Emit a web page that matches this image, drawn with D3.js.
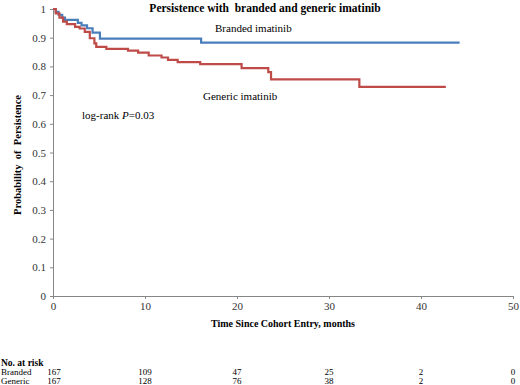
<!DOCTYPE html>
<html>
<head>
<meta charset="utf-8">
<script src="https://cdn.jsdelivr.net/npm/d3@7"></script>
<style>
body{margin:0;background:#fff}
svg{display:block;font-family:"Liberation Serif","Times New Roman",serif}
</style>
</head>
<body>
<svg id="km" width="520" height="385"></svg>
<script>
var brandedTime=[0,0.3,0.6,1.0,1.3,2.7,3.1,3.7,4.3,5.1,16.1,44.2]
var brandedSurv=[1,0.99,0.98,0.97,0.962,0.952,0.943,0.933,0.918,0.897,0.883,0.883]
var genericTime=[0,0.3,0.7,1.1,1.5,2.4,2.9,3.45,4.0,4.5,4.7,5.8,8.15,9.25,10.4,11.8,12.5,13.55,16.0,20.5,23.4,23.7,33.3,42.7]
var genericSurv=[1,0.985,0.97,0.956,0.947,0.938,0.932,0.92,0.898,0.88,0.868,0.861,0.855,0.848,0.838,0.831,0.823,0.815,0.808,0.794,0.78,0.755,0.729,0.729]
var xTicks=[0,10,20,30,40,50]
var yTicks=[0,0.1,0.2,0.3,0.4,0.5,0.6,0.7,0.8,0.9,1]
var riskRows=['Branded','Generic']
var riskBranded=[167,109,47,25,2,0]
var riskGeneric=[167,128,76,38,2,0]

var svg=d3.select('#km')
var x=d3.scaleLinear().domain([0,50]).range([53,513])
var y=d3.scaleLinear().domain([0,1]).range([296,9])
var axisColor='#868686'

var gx=svg.append('g').attr('transform','translate(0,'+y(0)+')')
    .call(d3.axisBottom(x).tickValues(xTicks).tickSize(3).tickPadding(3))
var gy=svg.append('g').attr('transform','translate('+x(0)+',0)')
    .call(d3.axisLeft(y).tickValues(yTicks).tickSize(3).tickPadding(4).tickFormat(d=>d==0||d==1?d:d3.format('.1f')(d)))
svg.selectAll('.domain').attr('stroke',axisColor)
svg.selectAll('.tick line').attr('stroke',axisColor)
svg.selectAll('.tick text').attr('fill','#333').style('font-family','"Liberation Serif",serif').style('font-size','11px')

var line=d3.line().x(d=>x(d[0])).y(d=>y(d[1])).curve(d3.curveStepAfter)
var series=[
    {t:brandedTime,s:brandedSurv,color:'#4a7ebb'},
    {t:genericTime,s:genericSurv,color:'#be4b48'}
]
series.forEach(function(se){
    svg.append('path')
        .datum(se.t.map((t,i)=>[t,se.s[i]]))
        .attr('d',line)
        .attr('fill','none')
        .attr('stroke',se.color)
        .attr('stroke-width',2.2)
})

svg.append('text').attr('x',265).attr('y',12).attr('text-anchor','middle')
    .attr('font-weight','bold').attr('font-size','11.5px').attr('fill','#000')
    .attr('xml:space','preserve')
    .text('Persistence with  branded and generic imatinib')
svg.append('text').attr('x',215).attr('y',32).attr('font-size','11px').text('Branded imatinib')
svg.append('text').attr('x',203).attr('y',100).attr('font-size','11px').text('Generic imatinib')
var lr=svg.append('text').attr('x',82).attr('y',119).attr('font-size','11px')
lr.append('tspan').text('log-rank ')
lr.append('tspan').attr('font-style','italic').text('P')
lr.append('tspan').text('=0.03')

svg.append('text').attr('transform','translate(21,155) rotate(-90)')
    .attr('text-anchor','middle').attr('font-weight','bold').attr('font-size','10.5px')
    .attr('xml:space','preserve')
    .text('Probability  of  Persistence')
svg.append('text').attr('x',283).attr('y',327).attr('text-anchor','middle')
    .attr('font-weight','bold').attr('font-size','10px')
    .text('Time Since Cohort Entry, months')

// number at risk table
svg.append('text').attr('x',1).attr('y',366).attr('font-weight','bold').attr('font-size','9.5px').text('No. at risk')
var risk=[riskBranded,riskGeneric]
riskRows.forEach(function(r,i){
    var ry=375+i*9
    svg.append('text').attr('x',1).attr('y',ry).attr('font-size','9px').text(r)
    svg.selectAll('.risk'+i).data(risk[i]).join('text')
        .attr('class','risk'+i)
        .attr('x',(d,j)=>x(xTicks[j])+(j==0?1:0))
        .attr('y',ry)
        .attr('text-anchor','middle')
        .attr('font-size','9px')
        .text(d=>d)
})
</script>
</body>
</html>
